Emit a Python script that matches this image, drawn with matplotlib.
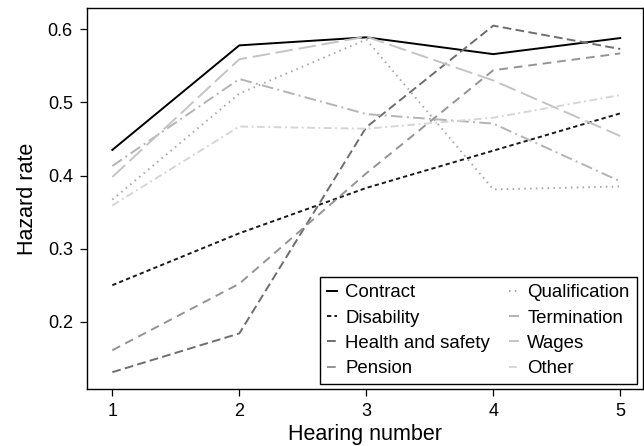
import matplotlib
matplotlib.use("Agg")
import matplotlib.pyplot as plt

plt.rcParams['font.family'] = ['Liberation Sans', 'DejaVu Sans']

hearing = [1, 2, 3, 4, 5]
series_names = ['Contract', 'Disability', 'Health and safety', 'Pension',
                'Qualification', 'Termination', 'Wages', 'Other']
contract = [0.435, 0.578, 0.589, 0.566, 0.588]
disability = [0.250, 0.321, 0.383, 0.434, 0.485]
health = [0.131, 0.184, 0.466, 0.605, 0.573]
pension = [0.161, 0.252, 0.403, 0.544, 0.567]
qualification = [0.367, 0.512, 0.586, 0.381, 0.385]
termination = [0.413, 0.532, 0.484, 0.471, 0.392]
wages = [0.398, 0.559, 0.590, 0.530, 0.454]
other = [0.359, 0.467, 0.464, 0.479, 0.510]

values = [contract, disability, health, pension, qualification, termination, wages, other]
colors = ['#000000', '#1a1a1a', '#6e6e6e', '#949494',
          '#a8a8a8', '#b4b4b4', '#c4c4c4', '#d6d6d6']
dashes = [None, (2.2, 1.6), (4.5, 2.2), (4.5, 3.0),
          (0.8, 2.2), (6, 2.2, 1, 2.2), (9, 3), (4, 1.8, 1, 1.8)]

fig = plt.figure(figsize=(6.44, 4.46), dpi=100)
ax = fig.add_axes([0.1346, 0.1278, 0.8646, 0.8536])

for name, vals, c, d in zip(series_names, values, colors, dashes):
    line, = ax.plot(hearing, vals, color=c, lw=1.4, label=name)
    if d is not None:
        line.set_dashes(d)

ax.set_xlim(0.798, 5.183)
ax.set_ylim(0.108, 0.6287)
ax.set_xticks(hearing)
ax.set_yticks([0.2, 0.3, 0.4, 0.5, 0.6])
ax.set_yticklabels(['0.2', '0.3', '0.4', '0.5', '0.6'])
ax.tick_params(direction='out', length=5, width=0.9, labelsize=13, pad=5)
for s in ax.spines.values():
    s.set_linewidth(1.0)
ax.set_xlabel('Hearing number', fontsize=15.5, labelpad=3)
ax.set_ylabel('Hazard rate', fontsize=15.5, labelpad=7)

leg = ax.legend(ncol=2, loc='lower right', bbox_to_anchor=(0.988, 0.012),
                borderaxespad=0, fontsize=13.4, handlelength=0.55,
                handletextpad=0.45, columnspacing=1.0, labelspacing=0.45,
                borderpad=0.38, fancybox=False, framealpha=1,
                edgecolor='black')
leg.get_frame().set_linewidth(1.0)

fig.savefig('out.png', dpi=100)
